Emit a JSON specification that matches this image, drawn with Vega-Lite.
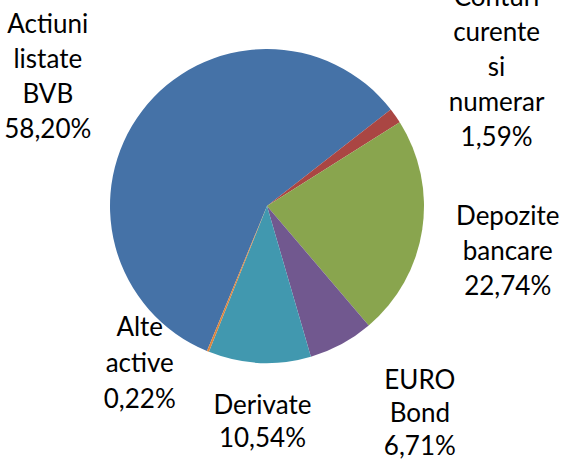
{
  "$schema": "https://vega.github.io/schema/vega-lite/v6.json",
  "autosize": "none",
  "width": 534,
  "height": 402,
  "padding": {"left": 0, "top": 5, "right": 28, "bottom": 53},
  "background": "white",
  "title": {"text": "activelor", "font": "Lato", "fontSize": 28, "fontWeight": "bold", "color": "#000000", "anchor": "middle", "baseline": "alphabetic", "dx": 27, "offset": 0},
  "data": {
    "values": [
      {"name": "Actiuni listate BVB", "value": 58.20, "ord": 1},
      {"name": "Conturi curente si numerar", "value": 1.59, "ord": 2},
      {"name": "Depozite bancare", "value": 22.74, "ord": 3},
      {"name": "EURO Bond", "value": 6.71, "ord": 4},
      {"name": "Derivate", "value": 10.54, "ord": 5},
      {"name": "Alte active", "value": 0.22, "ord": 6}
    ]
  },
  "transform": [
    {"stack": "value", "groupby": [], "sort": [{"field": "ord", "order": "ascending"}], "as": ["t0", "t1"]},
    {"calculate": "(datum.t0 + datum.t1) / 2", "as": "tmid"},
    {"calculate": "datum.name + ' ' + replace(format(datum.value, '.2f'), '.', ',') + '%'", "as": "label"}
  ],
  "layer": [
    {
      "mark": {"type": "arc", "radius": 157},
      "encoding": {
        "theta": {"field": "t0", "type": "quantitative", "scale": {"domain": [0, 100], "range": [3.5343, 9.8175]}},
        "theta2": {"field": "t1"},
        "color": {
          "field": "name", "type": "nominal", "legend": null,
          "scale": {
            "domain": ["Actiuni listate BVB", "Conturi curente si numerar", "Depozite bancare", "EURO Bond", "Derivate", "Alte active"],
            "range": ["#4572A7", "#AA4643", "#89A54E", "#71588F", "#4198AF", "#DB843D"]
          }
        }
      }
    },
    {
      "encoding": {
        "theta": {"field": "tmid", "type": "quantitative", "stack": null, "scale": {"domain": [0, 100], "range": [3.5343, 9.8175]}},
        "text": {"field": "label", "type": "nominal"}
      },
      "layer": [
        {"transform": [{"filter": "datum.ord == 1"}], "mark": {"type": "text", "radius": 200, "dx": -60, "dy": -60, "font": "Lato", "fontSize": 26, "lineHeight": 35, "lineBreak": " ", "align": "center", "baseline": "middle", "color": "#000000"}},
        {"transform": [{"filter": "datum.ord == 2"}], "mark": {"type": "text", "radius": 200, "dx": 66, "dy": -93, "font": "Lato", "fontSize": 26, "lineHeight": 35, "lineBreak": " ", "align": "center", "baseline": "middle", "color": "#000000"}},
        {"transform": [{"filter": "datum.ord == 3"}], "mark": {"type": "text", "radius": 200, "dx": 43, "dy": -19, "font": "Lato", "fontSize": 26, "lineHeight": 35, "lineBreak": " ", "align": "center", "baseline": "middle", "color": "#000000"}},
        {"transform": [{"filter": "datum.ord == 4"}], "mark": {"type": "text", "radius": 200, "dx": 58, "dy": -1, "font": "Lato", "fontSize": 26, "lineHeight": 33, "lineBreak": " ", "align": "center", "baseline": "middle", "color": "#000000"}},
        {"transform": [{"filter": "datum.ord == 5"}], "mark": {"type": "text", "radius": 200, "dx": 5, "dy": 0, "font": "Lato", "fontSize": 26, "lineHeight": 33, "lineBreak": " ", "align": "center", "baseline": "middle", "color": "#000000"}},
        {"transform": [{"filter": "datum.ord == 6"}], "mark": {"type": "text", "radius": 200, "dx": -52, "dy": -63, "font": "Lato", "fontSize": 26, "lineHeight": 36, "lineBreak": " ", "align": "center", "baseline": "middle", "color": "#000000"}}
      ]
    }
  ]
}
